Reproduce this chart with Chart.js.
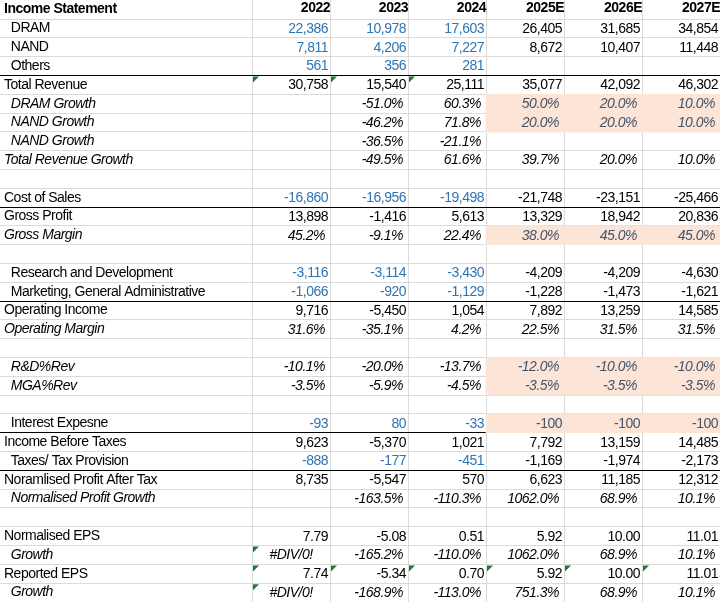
<!DOCTYPE html>
<html>
<head>
<meta charset="utf-8">
<script src="https://cdn.jsdelivr.net/npm/chart.js@4.4.1/dist/chart.umd.min.js"></script>
<style>
  body { margin: 0; background: #fff; }
  #wrap { width: 720px; height: 602px; position: relative; }
</style>
</head>
<body>
<div id="wrap"><canvas id="tabela"></canvas></div>
<script>
// Cabeçalhos e linhas
const titulo = 'Income Statement';
const anos = ['2022', '2023', '2024', '2025E', '2026E', '2027E'];
const linhas = [
  'DRAM', 'NAND', 'Others', 'Total Revenue', 'DRAM Growth', 'NAND Growth', 'NAND Growth',
  'Total Revenue Growth', '', 'Cost of Sales', 'Gross Profit', 'Gross Margin', '',
  'Research and Development', 'Marketing, General Administrative', 'Operating Income',
  'Operating Margin', '', 'R&D%Rev', 'MGA%Rev', '', 'Interest Expesne', 'Income Before Taxes',
  'Taxes/ Tax Provision', 'Noramlised Profit After Tax', 'Normalised Profit Growth', '',
  'Normalised EPS', 'Growth', 'Reported EPS', 'Growth'
];

// Valores por ano (percentuais em %)
const v2022 = [22386, 7811, 561, 30758, null, null, null, null, null, -16860, 13898, 45.2, null, -3116, -1066, 9716, 31.6, null, -10.1, -3.5, null, -93, 9623, -888, 8735, null, null, 7.79, '#DIV/0!', 7.74, '#DIV/0!'];
const v2023 = [10978, 4206, 356, 15540, -51.0, -46.2, -36.5, -49.5, null, -16956, -1416, -9.1, null, -3114, -920, -5450, -35.1, null, -20.0, -5.9, null, 80, -5370, -177, -5547, -163.5, null, -5.08, -165.2, -5.34, -168.9];
const v2024 = [17603, 7227, 281, 25111, 60.3, 71.8, -21.1, 61.6, null, -19498, 5613, 22.4, null, -3430, -1129, 1054, 4.2, null, -13.7, -4.5, null, -33, 1021, -451, 570, -110.3, null, 0.51, -110.0, 0.70, -113.0];
const v2025 = [26405, 8672, null, 35077, 50.0, 20.0, null, 39.7, null, -21748, 13329, 38.0, null, -4209, -1228, 7892, 22.5, null, -12.0, -3.5, null, -100, 7792, -1169, 6623, 1062.0, null, 5.92, 1062.0, 5.92, 751.3];
const v2026 = [31685, 10407, null, 42092, 20.0, 20.0, null, 20.0, null, -23151, 18942, 45.0, null, -4209, -1473, 13259, 31.5, null, -10.0, -3.5, null, -100, 13159, -1974, 11185, 68.9, null, 10.00, 68.9, 10.00, 68.9];
const v2027 = [34854, 11448, null, 46302, 10.0, 10.0, null, 10.0, null, -25466, 20836, 45.0, null, -4630, -1621, 14585, 31.5, null, -10.0, -3.5, null, -100, 14485, -2173, 12312, 10.1, null, 11.01, 10.1, 11.01, 10.1];
const valoresAno = [v2022, v2023, v2024, v2025, v2026, v2027];

// Formato de cada linha: n = inteiro, p = percentual, d = duas casas
const formatos = ['n', 'n', 'n', 'n', 'p', 'p', 'p', 'p', '', 'n', 'n', 'p', '', 'n', 'n', 'n', 'p', '', 'p', 'p', '', 'n', 'n', 'n', 'n', 'p', '', 'd', 'p', 'd', 'p'];
const linhasItalico = [4, 5, 6, 7, 11, 16, 18, 19, 25, 28, 30];
const linhasRecuo = [0, 1, 2, 4, 5, 6, 13, 14, 18, 19, 21, 23, 25, 28, 30];
const linhasEntrada = [0, 1, 2, 9, 13, 14, 21, 23];   // históricos em azul (3 primeiros anos)
const linhasPremissa = [4, 5, 11, 18, 19, 21];        // premissas destacadas (anos E)
const linhasTotal = [3, 10, 15, 22, 24];              // linha preta acima
const celulasAviso = [[3, 0], [3, 1], [3, 2], [28, 0], [29, 0], [29, 1], [29, 2], [29, 3], [29, 4], [29, 5], [30, 0]];

const FONTE = '"Liberation Sans", Arial, sans-serif';
const ESPACO = '-0.5px';
const AZUL = '#2f75b5';
const CINZA_PREMISSA = '#44546a';
const FUNDO_PREMISSA = '#fce4d6';
const GRADE = '#dadada';

// Faixas destacadas: colunas dos anos estimados
const destaque = linhas.map((_, i) => linhasPremissa.includes(i) ? [3, 6] : null);

const formatar = (v, f) => {
    if (typeof v === 'string') return v;
    if (f === 'p') return v.toFixed(1) + '%';
    if (f === 'd') return v.toFixed(2);
    return Math.round(v).toLocaleString('en-US');
};

// Plugin que escreve os valores nas células
const textoCelulas = {
    id: 'textoCelulas',
    beforeDraw: (chart) => {
        chart.ctx.letterSpacing = ESPACO;
    },
    afterDatasetsDraw: (chart) => {
        const { ctx, scales: { x, y } } = chart;
        ctx.save();
        ctx.letterSpacing = ESPACO;
        ctx.textBaseline = 'middle';
        valoresAno.forEach((valores, c) => {
            const esq = x.getPixelForValue(c);
            const dir = x.getPixelForValue(c + 1);
            valores.forEach((v, r) => {
                if (v === null) return;
                const f = formatos[r];
                ctx.font = (linhasItalico.includes(r) ? 'italic ' : '') + '14px ' + FONTE;
                if (linhasPremissa.includes(r) && c >= 3) ctx.fillStyle = CINZA_PREMISSA;
                else if (linhasEntrada.includes(r) && c < 3) ctx.fillStyle = AZUL;
                else ctx.fillStyle = '#000';
                const py = y.getPixelForValue(r) + 0.5;
                if (typeof v === 'string') {
                    ctx.textAlign = 'center';
                    ctx.fillText(v, (esq + dir) / 2, py);
                } else {
                    ctx.textAlign = 'right';
                    ctx.fillText(formatar(v, f), dir - (f === 'p' ? 5 : 2), py);
                }
            });
        });

        // Triângulos verdes de aviso
        ctx.fillStyle = '#1f7a2e';
        const meiaLinha = (y.getPixelForValue(1) - y.getPixelForValue(0)) / 2;
        celulasAviso.forEach(([r, c]) => {
            const px = x.getPixelForValue(c) + 1;
            const topo = y.getPixelForValue(r) - meiaLinha + 1;
            ctx.beginPath();
            ctx.moveTo(px, topo);
            ctx.lineTo(px + 6, topo);
            ctx.lineTo(px, topo + 6);
            ctx.closePath();
            ctx.fill();
        });

        // Título no canto
        ctx.font = 'bold 14px ' + FONTE;
        ctx.fillStyle = '#000';
        ctx.textAlign = 'left';
        ctx.fillText(titulo, 4, x.top + (x.bottom - x.top) / 2);
        ctx.restore();
    }
};

const grafico = new Chart(document.getElementById('tabela'), {
    type: 'bar',
    data: {
        labels: linhas,
        datasets: [{
            data: destaque,
            backgroundColor: FUNDO_PREMISSA,
            borderWidth: 0,
            borderSkipped: false,
            barPercentage: 1,
            categoryPercentage: 1
        }]
    },
    options: {
        indexAxis: 'y',
        responsive: true,
        maintainAspectRatio: false,
        animation: false,
        events: [],
        layout: { padding: { left: 4, right: 0, top: 0, bottom: 0 } },
        plugins: { legend: { display: false }, tooltip: { enabled: false } },
        scales: {
            x: {
                type: 'linear',
                position: 'top',
                min: 0,
                max: anos.length,
                border: { display: false },
                grid: { color: GRADE, lineWidth: 1, tickLength: 19, drawTicks: true },
                ticks: {
                    stepSize: 1,
                    autoSkip: false,
                    maxRotation: 0,
                    align: 'end',
                    padding: -17,
                    color: '#000',
                    font: { family: FONTE, size: 14, weight: 'bold' },
                    callback: (v) => v > 0 ? anos[v - 1] : ''
                },
                afterFit: (s) => {
                    s.height = 19;
                    s.paddingLeft = 0;
                    s.paddingRight = 0;
                }
            },
            y: {
                type: 'category',
                border: { display: false },
                grid: {
                    offset: true,
                    tickLength: 252,
                    lineWidth: 1,
                    color: (ctx) => linhasTotal.includes(ctx.index) ? '#000' : GRADE
                },
                ticks: {
                    autoSkip: false,
                    crossAlign: 'far',
                    padding: 0,
                    color: '#000',
                    font: (ctx) => ({
                        family: FONTE,
                        size: 14,
                        style: linhasItalico.includes(ctx.index) ? 'italic' : 'normal'
                    }),
                    callback: (v, i) => (linhasRecuo.includes(i) ? '  ' : '') + linhas[i]
                },
                afterFit: (s) => {
                    s.width = 248;
                    s.paddingTop = 0;
                    s.paddingBottom = 0;
                }
            }
        }
    },
    plugins: [textoCelulas]
});
</script>
</body>
</html>
